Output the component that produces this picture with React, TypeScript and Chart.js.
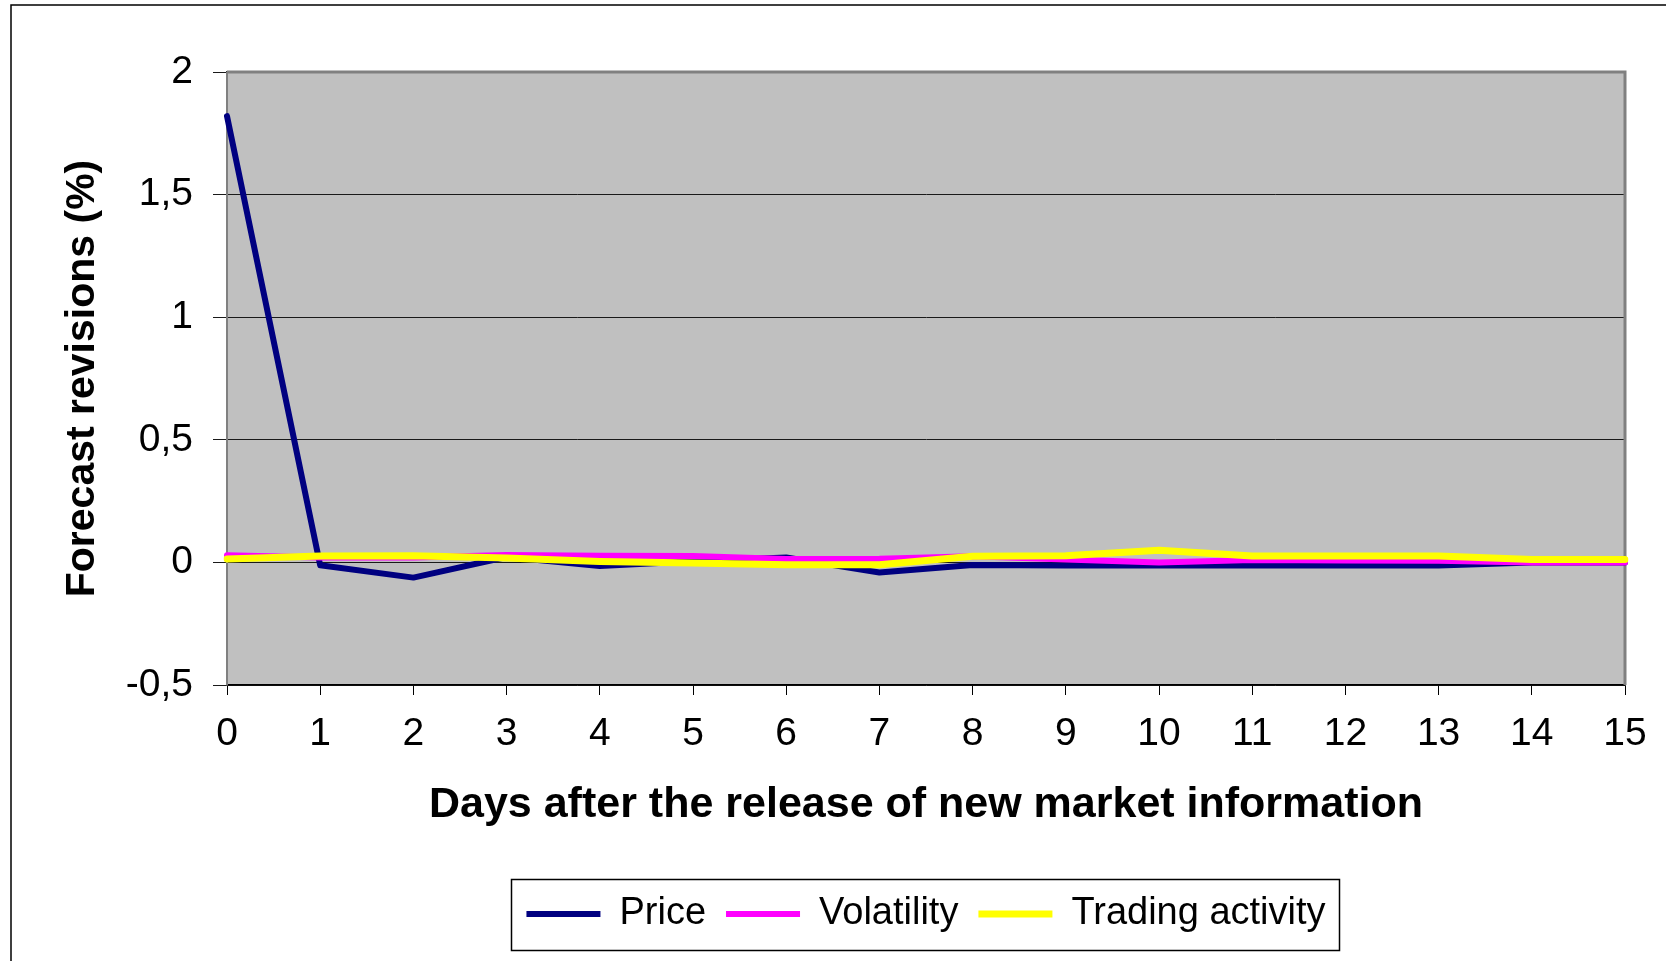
import React, { useEffect, useRef } from 'react';
import { Chart, registerables } from 'chart.js';

Chart.register(...registerables);

const days = ['0', '1', '2', '3', '4', '5', '6', '7', '8', '9', '10', '11', '12', '13', '14', '15'];
const priceValues = [1.82, -0.012, -0.062, 0.022, -0.015, 0.005, 0.02, -0.041, -0.011, -0.013, -0.013, -0.013, -0.013, -0.013, 0.0, 0.0];
const volatilityValues = [0.029, 0.02, 0.02, 0.03, 0.027, 0.026, 0.014, 0.015, 0.025, 0.012, 0.0, 0.01, 0.008, 0.007, 0.0, 0.0];
const tradingValues = [0.014, 0.026, 0.027, 0.018, 0.004, -0.002, -0.01, -0.01, 0.025, 0.027, 0.05, 0.026, 0.026, 0.026, 0.012, 0.012];
const seriesNames = ['Price', 'Volatility', 'Trading activity'];
const seriesColors = ['#000080', '#FF00FF', '#FFFF00'];
const yMin = -0.5;
const yMax = 2;
const yStep = 0.5;
const xTitle = 'Days after the release of new market information';
const yTitle = 'Forecast revisions (%)';

const FONT = '"Liberation Sans", Arial, Helvetica, sans-serif';

const backgroundPlugin = {
  id: 'bgFrame',
  beforeDraw(chart: any) {
    const { ctx, chartArea: a } = chart;
    ctx.save();
    ctx.fillStyle = '#FFFFFF';
    ctx.fillRect(0, 0, chart.width, chart.height);
    ctx.strokeStyle = '#000000';
    ctx.lineWidth = 1.5;
    ctx.strokeRect(11, 5, chart.width + 20, chart.height + 20);
    ctx.fillStyle = '#C0C0C0';
    ctx.fillRect(a.left, a.top, a.right - a.left, a.bottom - a.top);
    ctx.restore();
  },
  beforeDatasetsDraw(chart: any) {
    const { ctx, chartArea: a } = chart;
    ctx.save();
    ctx.strokeStyle = '#808080';
    ctx.lineWidth = 3;
    ctx.beginPath();
    ctx.moveTo(a.left, a.top);
    ctx.lineTo(a.right, a.top);
    ctx.lineTo(a.right, a.bottom);
    ctx.stroke();
    ctx.lineWidth = 2;
    ctx.beginPath();
    ctx.moveTo(a.left, a.top);
    ctx.lineTo(a.left, a.bottom);
    ctx.stroke();
    ctx.restore();
  },
  afterDraw(chart: any) {
    const lg = chart.legend;
    if (!lg || !lg.legendHitBoxes || !lg.legendHitBoxes.length) return;
    const boxes = lg.legendHitBoxes;
    let l = Infinity, r = -Infinity, t = Infinity, b = -Infinity;
    boxes.forEach((h: any) => {
      l = Math.min(l, h.left);
      r = Math.max(r, h.left + h.width);
      t = Math.min(t, h.top);
      b = Math.max(b, h.top + h.height);
    });
    const cy = (t + b) / 2;
    const { ctx } = chart;
    ctx.save();
    ctx.strokeStyle = '#000000';
    ctx.lineWidth = 1.5;
    ctx.strokeRect(Math.round(l - 15) + 0.5, Math.round(cy - 35) + 0.5, Math.round(r - l + 29), 71);
    ctx.restore();
  },
};

export default function App() {
  const canvasRef = useRef<HTMLCanvasElement | null>(null);

  useEffect(() => {
    if (!canvasRef.current) return;
    const values = [priceValues, volatilityValues, tradingValues];
    const widths = [6, 6, 7];
    const orders = [3, 2, 1];
    const chart = new Chart(canvasRef.current, {
      type: 'line',
      data: {
        labels: days,
        datasets: seriesNames.map((name, i) => ({
          label: name,
          data: values[i],
          borderColor: seriesColors[i],
          backgroundColor: seriesColors[i],
          borderWidth: widths[i],
          borderCapStyle: 'round',
          borderJoinStyle: 'round',
          pointRadius: 0,
          pointHoverRadius: 0,
          tension: 0,
          fill: false,
          order: orders[i],
        })),
      },
      options: {
        animation: false,
        responsive: false,
        devicePixelRatio: 1,
        layout: { padding: { left: 0, top: 72, right: 41, bottom: 18 } },
        plugins: {
          tooltip: { enabled: false },
          legend: {
            position: 'bottom',
            fullSize: false,
            labels: {
              usePointStyle: true,
              pointStyle: 'line',
              pointStyleWidth: 74,
              boxHeight: 38,
              padding: 20,
              color: '#000000',
              font: { family: FONT, size: 38 },
              sort: (a: any, b: any) => a.datasetIndex - b.datasetIndex,
            },
          },
        },
        scales: {
          x: {
            type: 'category',
            offset: false,
            afterFit(scale: any) {
              scale.height = 190;
            },
            grid: {
              display: true,
              drawOnChartArea: false,
              drawTicks: true,
              tickLength: 10,
              color: '#000000',
              lineWidth: 1,
            },
            border: { display: true, color: '#000000', width: 1.5 },
            ticks: {
              color: '#000000',
              font: { family: FONT, size: 39 },
              padding: 16,
              maxRotation: 0,
              autoSkip: false,
            },
            title: {
              display: true,
              text: xTitle,
              color: '#000000',
              font: { family: FONT, size: 43, weight: 'bold' },
              padding: { top: 0, bottom: 44 },
            },
          },
          y: {
            type: 'linear',
            min: yMin,
            max: yMax,
            afterFit(scale: any) {
              scale.width = 227;
            },
            grid: {
              display: true,
              drawOnChartArea: true,
              drawTicks: true,
              tickLength: 14,
              color: '#1a1a1a',
              lineWidth: 1,
            },
            border: { display: true, color: '#404040', width: 2 },
            ticks: {
              stepSize: yStep,
              color: '#000000',
              font: { family: FONT, size: 39 },
              padding: 20,
              callback: (v: any) => String(v).replace('.', ','),
            },
            title: {
              display: true,
              text: yTitle,
              color: '#000000',
              font: { family: FONT, size: 41, weight: 'bold' },
              padding: { top: 58, bottom: 0 },
            },
          },
        },
      },
      plugins: [backgroundPlugin],
    } as any);
    return () => chart.destroy();
  }, []);

  return (
    <div style={{ position: 'absolute', left: 0, top: 0, width: 1666, height: 961, overflow: 'hidden', background: '#fff' }}>
      <canvas ref={canvasRef} width={1666} height={961} style={{ width: 1666, height: 961, display: 'block' }} />
    </div>
  );
}
